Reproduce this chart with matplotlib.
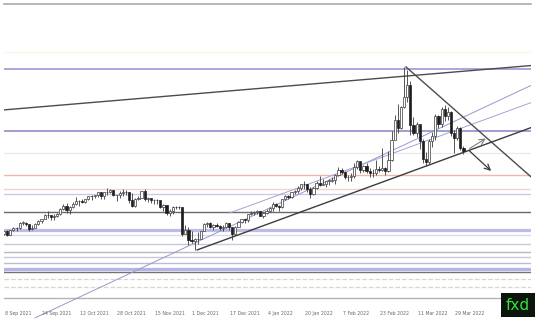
import matplotlib
matplotlib.use('Agg')
import matplotlib.pyplot as plt
import numpy as np

# daily candles, 8 Sep 2021 -> 1 Apr 2022 (weekdays)
close = [69.3, 68.1, 69.7, 70.5, 70.5, 72.6, 72.6, 72.0, 70.3, 70.6,
         72.2, 73.3, 74.0, 75.5, 75.3, 74.8, 75.0, 75.9, 77.6, 78.9,
         77.4, 78.3, 79.4, 80.5, 80.6, 80.4, 81.3, 82.3, 82.4, 83.0,
         83.9, 82.5, 83.8, 83.8, 84.6, 82.7, 82.8, 83.6, 84.0, 83.9,
         80.9, 78.8, 81.3, 81.9, 84.2, 81.3, 81.6, 80.8, 80.9, 80.8,
         78.4, 79.0, 76.1, 76.8, 78.5, 78.4, 78.3, 68.2, 70.0, 66.2,
         65.6, 66.5, 66.3, 69.5, 72.1, 72.4, 70.9, 71.7, 71.3, 70.7,
         70.9, 72.4, 70.9, 68.2, 71.1, 72.8, 73.8, 73.5, 75.6, 76.0,
         76.6, 77.0, 75.2, 76.1, 77.0, 77.9, 79.5, 78.9, 78.2, 81.2,
         82.6, 82.1, 83.8, 84.3, 85.4, 87.0, 86.9, 85.1, 83.3, 85.6,
         87.4, 86.6, 86.8, 88.2, 88.2, 88.3, 90.3, 92.3, 91.3, 89.4,
         89.7, 89.9, 93.1, 95.5, 92.1, 93.7, 91.8, 91.1, 91.0, 92.4,
         92.1, 92.8, 91.6, 95.7, 103.4, 110.6, 107.7, 115.7, 119.4, 123.7,
         108.7, 106.0, 109.3, 103.0, 96.4, 95.0, 103.0, 104.7, 112.1, 109.3,
         114.9, 112.3, 113.9, 106.0, 104.2, 107.8, 100.3, 99.3]
high = [69.6, 69.7, 69.9, 70.8, 71.0, 72.8, 73.0, 72.8, 71.7, 71.5,
        72.6, 73.5, 74.0, 75.8, 76.7, 75.5, 75.6, 76.0, 78.0, 79.5,
        79.8, 78.7, 80.1, 82.2, 81.0, 81.4, 81.5, 82.4, 83.0, 83.0,
        83.9, 83.8, 84.1, 85.4, 85.0, 84.8, 83.0, 84.2, 84.9, 84.6,
        83.9, 83.5, 81.7, 82.5, 84.5, 84.9, 82.2, 81.9, 81.4, 81.4,
        80.6, 79.5, 79.1, 77.7, 78.8, 78.9, 78.8, 78.2, 71.6, 71.1,
        69.4, 67.0, 69.0, 69.6, 72.3, 72.9, 72.7, 72.0, 72.5, 71.6,
        71.5, 72.9, 72.3, 70.4, 71.3, 73.0, 73.9, 73.9, 75.7, 76.9,
        77.0, 77.1, 77.0, 76.6, 77.6, 78.2, 80.2, 80.0, 79.0, 81.5,
        82.9, 83.0, 84.1, 84.8, 86.1, 87.0, 87.9, 86.9, 85.7, 85.8,
        88.0, 89.9, 88.8, 88.2, 88.8, 89.7, 90.5, 93.2, 93.0, 91.7,
        90.2, 91.0, 94.7, 95.8, 95.1, 93.9, 94.6, 92.9, 92.5, 96.0,
        93.7, 100.5, 93.3, 99.1, 106.8, 112.5, 116.6, 116.0, 130.5, 129.4,
        125.4, 112.0, 110.0, 109.0, 103.5, 99.0, 103.5, 106.1, 112.9, 112.5,
        115.4, 116.4, 115.6, 114.0, 107.1, 108.4, 108.0, 101.0]
low = [68.0, 67.6, 68.1, 69.3, 69.6, 70.2, 71.7, 71.2, 69.6, 70.0,
       70.5, 71.7, 72.4, 73.8, 74.3, 73.4, 73.7, 74.6, 75.3, 77.1,
       76.1, 75.6, 77.9, 79.2, 78.7, 79.7, 79.7, 81.1, 80.9, 81.6,
       82.0, 81.5, 81.5, 83.0, 83.5, 82.4, 80.6, 81.8, 82.6, 82.8,
       79.9, 78.3, 78.5, 80.8, 81.8, 80.6, 80.4, 79.7, 79.4, 79.6,
       77.9, 76.9, 75.3, 75.1, 75.6, 77.6, 77.6, 67.4, 68.3, 64.4,
       65.1, 62.4, 64.6, 66.6, 69.5, 71.1, 70.5, 70.0, 70.9, 69.9,
       69.4, 70.6, 69.8, 66.1, 68.1, 70.9, 72.4, 72.6, 72.8, 75.5,
       75.3, 75.6, 74.9, 74.3, 75.7, 76.6, 76.8, 78.2, 76.9, 77.9,
       80.9, 81.3, 81.7, 83.2, 83.7, 84.7, 84.9, 84.0, 81.8, 82.7,
       85.2, 86.1, 86.5, 86.0, 86.5, 87.6, 87.0, 89.8, 90.6, 88.8,
       88.2, 87.9, 89.2, 92.4, 91.2, 91.5, 91.2, 89.5, 89.7, 90.4,
       91.3, 91.6, 90.1, 91.3, 95.6, 103.7, 106.0, 107.5, 115.2, 117.5,
       105.3, 105.0, 104.5, 99.8, 94.6, 93.5, 94.2, 100.6, 103.2, 107.8,
       108.3, 110.5, 110.6, 104.7, 98.4, 103.2, 99.6, 98.0]
first_open = 68.4

tick_labels = ['8 Sep 2021', '24 Sep 2021', '12 Oct 2021', '28 Oct 2021',
               '15 Nov 2021', '1 Dec 2021', '17 Dec 2021', '4 Jan 2022',
               '20 Jan 2022', '7 Feb 2022', '23 Feb 2022', '11 Mar 2022',
               '29 Mar 2022']
tick_idx = [0, 12, 24, 36, 48, 60, 72, 84, 96, 108, 120, 132, 144]

# horizontal levels: price, colour, width, style
levels = [136.1, 129.8, 106.7, 98.5, 90.3, 85.1, 83.3, 76.6, 69.9, 68.0,
          64.7, 61.7, 59.8, 57.6, 55.4, 54.2, 51.6, 48.7, 44.6]
level_colors = ['#fbf6e6', '#9090d2', '#8484cc', '#f4e6e6', '#f0b8a8',
                '#f2d2cc', '#cacaea', '#6a6a6a', '#bcbce8', '#dadaec',
                '#c8c8de', '#b8b8c8', '#c8c8de', '#bcbcd6', '#b4b4e8',
                '#727272', '#ddd6c8', '#ddd6c8', '#b4b4b4']
level_widths = [1, 1.1, 1.1, 1, 1, 1, 1, 1, 2.3, 1, 1, 1, 1, 1, 2.3, 1, 0.9, 0.9, 1]
level_styles = ['-'] * 16 + ['--', '--', '-']

# drawn trend lines (bar index, price)
resist_x, resist_y = [0, 168.6], [114.5, 131.0]
fall_x, fall_y = [128.6, 168.6], [130.5, 89.6]
support_x, support_y = [61.8, 168.6], [62.4, 107.9]
long_x, long_y = [9.9, 168.6], [37.1, 123.6]
chan_x, chan_y = [72.3, 168.6], [76.2, 117.2]
up_arrow = [(148.2, 99.6), (154.9, 104.4)]
down_arrow = [(148.2, 100.0), (156.5, 91.1)]

close = np.array(close)
high = np.array(high)
low = np.array(low)
opens = np.r_[first_open, close[:-1]]
idx = np.arange(len(close))

fig = plt.figure(figsize=(5.36, 3.26), dpi=100)
ax = fig.add_axes([4/536, 0, 527/536, 322/326])
ax.set_xlim(0, 168.6)
ax.set_ylim(34.1, 153.9)

for p, c, w, s in zip(levels, level_colors, level_widths, level_styles):
    ax.axhline(p, color=c, lw=w, ls=s, zorder=1)

ax.plot(long_x, long_y, color='#9898cc', lw=0.7, zorder=2)
ax.plot(chan_x, chan_y, color='#a4a4d2', lw=0.7, zorder=2)
ax.plot(resist_x, resist_y, color='#4c4c4c', lw=1.0, zorder=2)
ax.plot(fall_x, fall_y, color='#4c4c4c', lw=1.0, zorder=2)
ax.plot(support_x, support_y, color='#3c3c3c', lw=1.0, zorder=2)

# candles
ax.vlines(idx, low, high, color='#3a3a3a', lw=0.6, zorder=3)
up = close >= opens
body_lo = np.minimum(opens, close)
body_h = np.maximum(np.abs(close - opens), 0.15)
ax.bar(idx[up], body_h[up], bottom=body_lo[up], width=0.7,
       color='white', edgecolor='#3a3a3a', lw=0.5, zorder=4)
ax.bar(idx[~up], body_h[~up], bottom=body_lo[~up], width=0.7,
       color='#1e1e1e', edgecolor='#1e1e1e', lw=0.5, zorder=4)

ax.annotate('', xy=up_arrow[1], xytext=up_arrow[0],
            arrowprops=dict(arrowstyle='->', color='#808080', lw=0.8))
ax.annotate('', xy=down_arrow[1], xytext=down_arrow[0],
            arrowprops=dict(arrowstyle='->', color='#3a3a3a', lw=0.9))

for i, lab in zip(tick_idx, tick_labels):
    ax.text(i + 0.3, 38.6, lab, fontsize=3.3, color='#666666',
            ha='left', va='center')

ax.set_xticks([])
ax.set_yticks([])
for s in ['left', 'right', 'bottom']:
    ax.spines[s].set_visible(False)
ax.spines['top'].set_color('#aaaaaa')
ax.spines['top'].set_linewidth(1.2)

fig.text(518/536, 1 - 305/326, 'fxd', color='#3ddc3d', fontsize=11,
         ha='center', va='center',
         bbox=dict(boxstyle='square,pad=0.3', fc='#0b160b', ec='none'))

fig.savefig('out.png', dpi=100)
